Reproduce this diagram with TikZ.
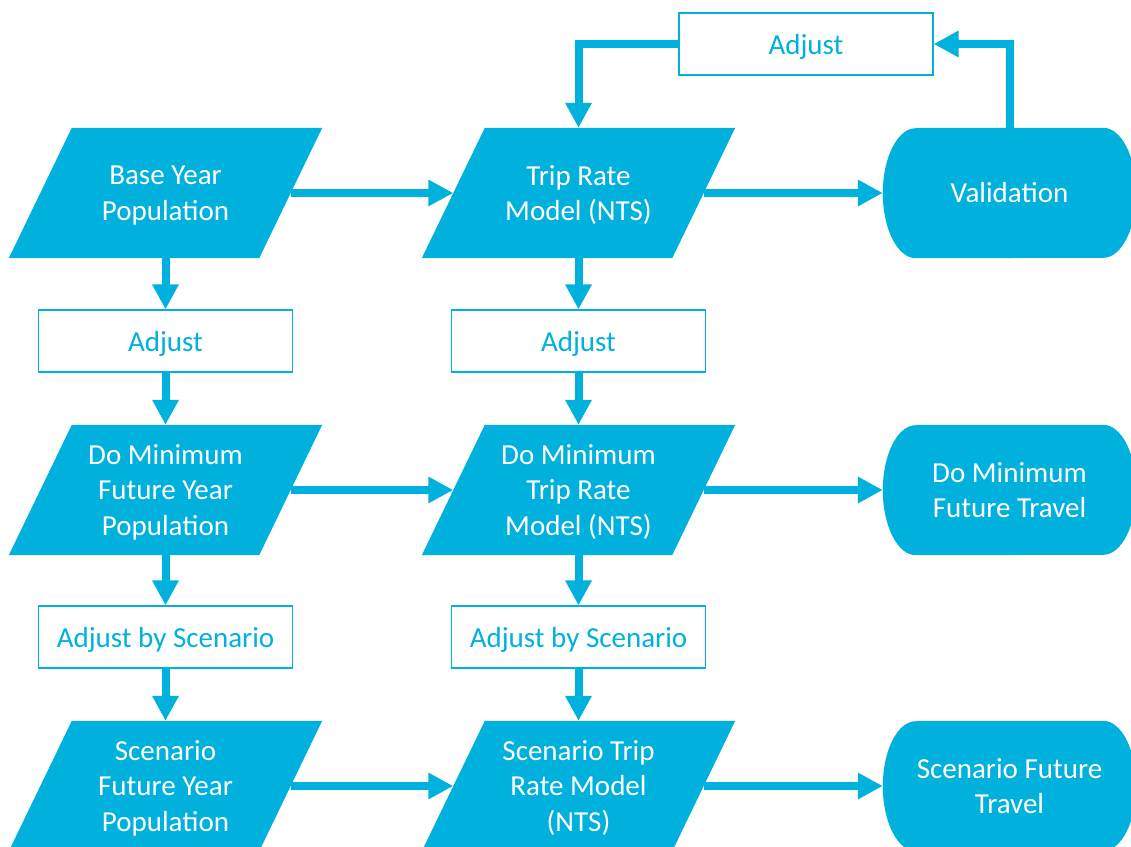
\documentclass[tikz,border=0pt]{standalone}
\usepackage{fontspec}
\setmainfont{Carlito}
\usetikzlibrary{arrows.meta,calc}
\definecolor{accent}{RGB}{0,176,221}
\pgfdeclarelayer{background}
\pgfsetlayers{background,main}

% slanted data box behind a node (node width = width at mid-height)
\newcommand\paraFill[1]{%
  \fill[accent] ($(#1.north west)+(31.5,0)$) -- ($(#1.north east)+(31.5,0)$)
    -- ($(#1.south east)+(-31.5,0)$) -- ($(#1.south west)+(-31.5,0)$) -- cycle;}
% terminator with elliptical ends behind a node
\newcommand\termFill[1]{%
  \fill[accent] ($(#1.north west)+(33,0)$) -- ($(#1.north east)+(-33,0)$)
    arc[start angle=90,end angle=-90,x radius=33pt,y radius=65pt]
    -- ($(#1.south west)+(33,0)$)
    arc[start angle=270,end angle=90,x radius=33pt,y radius=65pt] -- cycle;}

\begin{document}
\begin{tikzpicture}[x=1pt,y=-1pt,
  base/.style={font=\fontsize{29}{35.5}\selectfont, align=center, inner sep=0pt},
  para/.style={base, text=white, text depth=0pt, minimum width=250pt, minimum height=130pt},
  term/.style={base, text=white, minimum width=253pt, minimum height=130pt},
  adjbox/.style={base, text=accent, text depth=0pt, draw=accent, line width=1.2pt, fill=white,
                 minimum width=254pt, minimum height=62pt},
  flow/.style={draw=accent, line width=8pt, -{Triangle[length=25pt,width=25pt]}}]

\useasboundingbox (0,0) rectangle (1131,846);

% row 1
\node[para] (p1) at (165.5,193) {Base Year\\Population};
\node[para] (p2) at (578.5,193) {Trip Rate\\Model (NTS)};
\node[term] (v1) at (1009.5,193) {Validation};
\node[adjbox] (adj0) at (806,44) {Adjust};

% row 2
\node[adjbox] (a1) at (165.5,341) {Adjust};
\node[adjbox] (a2) at (578.5,341) {Adjust};

% row 3
\node[para] (p3) at (165.5,490) {Do Minimum\\Future Year\\Population};
\node[para] (p4) at (578.5,490) {Do Minimum\\Trip Rate\\Model (NTS)};
\node[term] (v2) at (1009.5,490) {Do Minimum\\Future Travel};

% row 4
\node[adjbox] (b1) at (165.5,637) {Adjust by Scenario};
\node[adjbox] (b2) at (578.5,637) {Adjust by Scenario};

% row 5
\node[para] (p5) at (165.5,786) {Scenario\\Future Year\\Population};
\node[para] (p6) at (578.5,786) {Scenario Trip\\Rate Model\\(NTS)};
\node[term] (v3) at (1009.5,786) {Scenario Future\\Travel};

\begin{pgfonlayer}{background}
  \paraFill{p1}\paraFill{p2}\paraFill{p3}\paraFill{p4}\paraFill{p5}\paraFill{p6}
  \termFill{v1}\termFill{v2}\termFill{v3}
\end{pgfonlayer}

% connectors
\draw[flow] (p1.east) -- (p2.west);
\draw[flow] (p2.east) -- (v1.west);
\draw[flow] (p3.east) -- (p4.west);
\draw[flow] (p4.east) -- (v2.west);
\draw[flow] (p5.east) -- (p6.west);
\draw[flow] (p6.east) -- (v3.west);

\draw[flow] (p1.south) -- (a1.north);
\draw[flow] (a1.south) -- (p3.north);
\draw[flow] (p3.south) -- (b1.north);
\draw[flow] (b1.south) -- (p5.north);
\draw[flow] (p2.south) -- (a2.north);
\draw[flow] (a2.south) -- (p4.north);
\draw[flow] (p4.south) -- (b2.north);
\draw[flow] (b2.south) -- (p6.north);

\draw[flow] (v1.north) |- (adj0.east);
\draw[flow] (adj0.west) -| (p2.north);
\end{tikzpicture}
\end{document}
